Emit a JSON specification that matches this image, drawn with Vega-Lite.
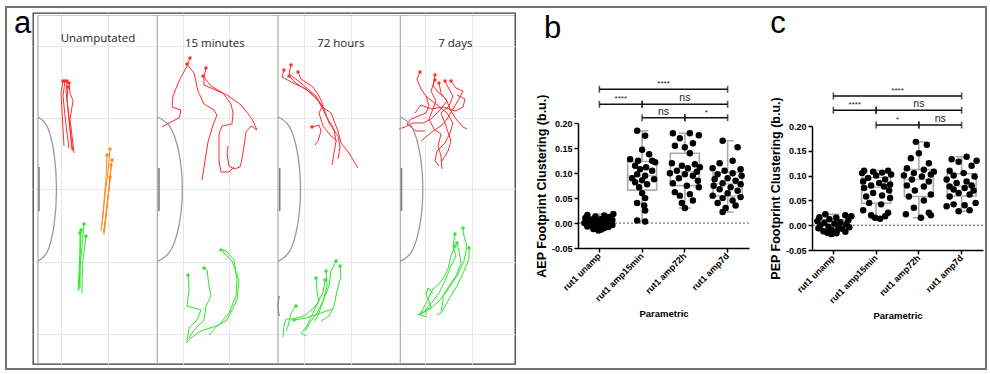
{
"$schema": "https://vega.github.io/schema/vega-lite/v6.json",
"background": "white",
"padding": {"left": 4, "top": 5, "right": 0, "bottom": 0},
"bounds": "flush",
"spacing": 63,
"config": {"font": "Liberation Sans", "view": {"stroke": null}, "axis": {"labelFont": "Liberation Sans", "titleFont": "Liberation Sans"}},
"datasets": {
"dividers": [{"x":37},{"x":156.3},{"x":277},{"x":399.3}],
"arcs": [
{"id":"a1","o":0,"x":37,"y":116},{"id":"a1","o":1,"x":46.3,"y":125.7},{"id":"a1","o":2,"x":53,"y":152.1},{"id":"a1","o":3,"x":55.5,"y":188.2},{"id":"a1","o":4,"x":53,"y":224.3},{"id":"a1","o":5,"x":46.3,"y":250.7},{"id":"a1","o":6,"x":37,"y":260.4},
{"id":"a2","o":0,"x":156.3,"y":116},{"id":"a2","o":1,"x":168.8,"y":125.7},{"id":"a2","o":2,"x":178,"y":152.1},{"id":"a2","o":3,"x":181.3,"y":188.2},{"id":"a2","o":4,"x":178,"y":224.3},{"id":"a2","o":5,"x":168.8,"y":250.7},{"id":"a2","o":6,"x":156.3,"y":260.4},
{"id":"a3","o":0,"x":277,"y":116},{"id":"a3","o":1,"x":288.3,"y":125.7},{"id":"a3","o":2,"x":296.5,"y":152.1},{"id":"a3","o":3,"x":299.5,"y":188.2},{"id":"a3","o":4,"x":296.5,"y":224.3},{"id":"a3","o":5,"x":288.3,"y":250.7},{"id":"a3","o":6,"x":277,"y":260.4},
{"id":"a4","o":0,"x":399.3,"y":116},{"id":"a4","o":1,"x":410.6,"y":125.7},{"id":"a4","o":2,"x":418.8,"y":152.1},{"id":"a4","o":3,"x":421.8,"y":188.2},{"id":"a4","o":4,"x":418.8,"y":224.3},{"id":"a4","o":5,"x":410.6,"y":250.7},{"id":"a4","o":6,"x":399.3,"y":260.4}
],
"stubs": [
{"id":"s1","o":0,"x":38,"y":166},{"id":"s1","o":1,"x":38,"y":210},
{"id":"s2","o":0,"x":158,"y":167},{"id":"s2","o":1,"x":158,"y":210},
{"id":"s3","o":0,"x":278.7,"y":167},{"id":"s3","o":1,"x":278.7,"y":210},
{"id":"s4","o":0,"x":400.5,"y":167},{"id":"s4","o":1,"x":400.5,"y":210}
],
"subtitles": [
{"x":97,"y":38,"t":"Unamputated"},{"x":213.8,"y":43,"t":"15 minutes"},{"x":339.8,"y":43,"t":"72 hours"},{"x":454.3,"y":43,"t":"7 days"}
],
"tracks": [
{"id":"u_r1","c":"red","o":0,"x":62,"y":80},{"id":"u_r1","c":"red","o":1,"x":60,"y":92},{"id":"u_r1","c":"red","o":2,"x":61,"y":110},{"id":"u_r1","c":"red","o":3,"x":62,"y":128},{"id":"u_r1","c":"red","o":4,"x":63,"y":145},
{"id":"u_r2","c":"red","o":0,"x":64,"y":80},{"id":"u_r2","c":"red","o":1,"x":62,"y":95},{"id":"u_r2","c":"red","o":2,"x":64,"y":115},{"id":"u_r2","c":"red","o":3,"x":66,"y":132},{"id":"u_r2","c":"red","o":4,"x":68,"y":147},
{"id":"u_r3","c":"red","o":0,"x":66,"y":80},{"id":"u_r3","c":"red","o":1,"x":65,"y":90},{"id":"u_r3","c":"red","o":2,"x":67,"y":108},{"id":"u_r3","c":"red","o":3,"x":69,"y":128},{"id":"u_r3","c":"red","o":4,"x":71,"y":149},
{"id":"u_r4","c":"red","o":0,"x":68,"y":82},{"id":"u_r4","c":"red","o":1,"x":69,"y":92},{"id":"u_r4","c":"red","o":2,"x":72,"y":100},{"id":"u_r4","c":"red","o":3,"x":69,"y":118},{"id":"u_r4","c":"red","o":4,"x":71,"y":135},{"id":"u_r4","c":"red","o":5,"x":73,"y":152},
{"id":"u_r5","c":"red","o":0,"x":67,"y":86},{"id":"u_r5","c":"red","o":1,"x":66,"y":98},{"id":"u_r5","c":"red","o":2,"x":68,"y":118},{"id":"u_r5","c":"red","o":3,"x":70,"y":138},{"id":"u_r5","c":"red","o":4,"x":72,"y":150},
{"id":"u_o1","c":"orange","o":0,"x":109,"y":148},{"id":"u_o1","c":"orange","o":1,"x":107,"y":170},{"id":"u_o1","c":"orange","o":2,"x":104,"y":195},{"id":"u_o1","c":"orange","o":3,"x":102,"y":215},{"id":"u_o1","c":"orange","o":4,"x":101,"y":224},
{"id":"u_o2","c":"orange","o":0,"x":106,"y":154},{"id":"u_o2","c":"orange","o":1,"x":105,"y":178},{"id":"u_o2","c":"orange","o":2,"x":103,"y":200},{"id":"u_o2","c":"orange","o":3,"x":101,"y":222},{"id":"u_o2","c":"orange","o":4,"x":100,"y":230},
{"id":"u_o3","c":"orange","o":0,"x":111,"y":159},{"id":"u_o3","c":"orange","o":1,"x":109,"y":180},{"id":"u_o3","c":"orange","o":2,"x":106,"y":205},{"id":"u_o3","c":"orange","o":3,"x":104,"y":225},{"id":"u_o3","c":"orange","o":4,"x":103,"y":234},
{"id":"u_o4","c":"orange","o":0,"x":110,"y":164},{"id":"u_o4","c":"orange","o":1,"x":108,"y":188},{"id":"u_o4","c":"orange","o":2,"x":105,"y":212},{"id":"u_o4","c":"orange","o":3,"x":103,"y":228},{"id":"u_o4","c":"orange","o":4,"x":102,"y":232},
{"id":"u_o5","c":"orange","o":0,"x":109,"y":176},{"id":"u_o5","c":"orange","o":1,"x":107,"y":195},{"id":"u_o5","c":"orange","o":2,"x":105,"y":215},{"id":"u_o5","c":"orange","o":3,"x":103,"y":230},
{"id":"u_g1","c":"green","o":0,"x":83,"y":223},{"id":"u_g1","c":"green","o":1,"x":81,"y":245},{"id":"u_g1","c":"green","o":2,"x":79,"y":268},{"id":"u_g1","c":"green","o":3,"x":78,"y":289},
{"id":"u_g2","c":"green","o":0,"x":80,"y":229},{"id":"u_g2","c":"green","o":1,"x":79,"y":252},{"id":"u_g2","c":"green","o":2,"x":78,"y":272},{"id":"u_g2","c":"green","o":3,"x":77,"y":290},
{"id":"u_g3","c":"green","o":0,"x":85,"y":235},{"id":"u_g3","c":"green","o":1,"x":82,"y":258},{"id":"u_g3","c":"green","o":2,"x":81,"y":278},{"id":"u_g3","c":"green","o":3,"x":81,"y":292},
{"id":"u_g4","c":"green","o":0,"x":79,"y":232},{"id":"u_g4","c":"green","o":1,"x":79,"y":255},{"id":"u_g4","c":"green","o":2,"x":79,"y":275},{"id":"u_g4","c":"green","o":3,"x":79,"y":287},
{"id":"m_r1","c":"red","o":0,"x":189,"y":57},{"id":"m_r1","c":"red","o":1,"x":186,"y":65},{"id":"m_r1","c":"red","o":2,"x":178,"y":80},{"id":"m_r1","c":"red","o":3,"x":172,"y":95},{"id":"m_r1","c":"red","o":4,"x":171,"y":106},{"id":"m_r1","c":"red","o":5,"x":180,"y":109},{"id":"m_r1","c":"red","o":6,"x":178,"y":117},{"id":"m_r1","c":"red","o":7,"x":168,"y":122},{"id":"m_r1","c":"red","o":8,"x":161,"y":126},
{"id":"m_r2","c":"red","o":0,"x":186,"y":63},{"id":"m_r2","c":"red","o":1,"x":193,"y":72},{"id":"m_r2","c":"red","o":2,"x":197,"y":90},{"id":"m_r2","c":"red","o":3,"x":203,"y":103},{"id":"m_r2","c":"red","o":4,"x":213,"y":109},{"id":"m_r2","c":"red","o":5,"x":216,"y":114},{"id":"m_r2","c":"red","o":6,"x":212,"y":124},{"id":"m_r2","c":"red","o":7,"x":207,"y":141},{"id":"m_r2","c":"red","o":8,"x":204,"y":160},{"id":"m_r2","c":"red","o":9,"x":201,"y":179},
{"id":"m_r3","c":"red","o":0,"x":205,"y":67},{"id":"m_r3","c":"red","o":1,"x":203,"y":76},{"id":"m_r3","c":"red","o":2,"x":203,"y":84},{"id":"m_r3","c":"red","o":3,"x":212,"y":88},{"id":"m_r3","c":"red","o":4,"x":226,"y":94},{"id":"m_r3","c":"red","o":5,"x":240,"y":104},{"id":"m_r3","c":"red","o":6,"x":251,"y":118},{"id":"m_r3","c":"red","o":7,"x":256,"y":129},{"id":"m_r3","c":"red","o":8,"x":250,"y":125},{"id":"m_r3","c":"red","o":9,"x":245,"y":131},{"id":"m_r3","c":"red","o":10,"x":243,"y":145},{"id":"m_r3","c":"red","o":11,"x":241,"y":158},{"id":"m_r3","c":"red","o":12,"x":239,"y":166},{"id":"m_r3","c":"red","o":13,"x":233,"y":168},{"id":"m_r3","c":"red","o":14,"x":228,"y":165},{"id":"m_r3","c":"red","o":15,"x":226,"y":153},{"id":"m_r3","c":"red","o":16,"x":227,"y":145},
{"id":"m_r4","c":"red","o":0,"x":202,"y":75},{"id":"m_r4","c":"red","o":1,"x":210,"y":85},{"id":"m_r4","c":"red","o":2,"x":222,"y":92},{"id":"m_r4","c":"red","o":3,"x":230,"y":103},{"id":"m_r4","c":"red","o":4,"x":232,"y":112},{"id":"m_r4","c":"red","o":5,"x":231,"y":123},{"id":"m_r4","c":"red","o":6,"x":221,"y":125},{"id":"m_r4","c":"red","o":7,"x":218,"y":133},{"id":"m_r4","c":"red","o":8,"x":218,"y":160},{"id":"m_r4","c":"red","o":9,"x":220,"y":171},{"id":"m_r4","c":"red","o":10,"x":228,"y":171},{"id":"m_r4","c":"red","o":11,"x":233,"y":166},
{"id":"m_g1","c":"green","o":0,"x":220,"y":249},{"id":"m_g1","c":"green","o":1,"x":225,"y":250},{"id":"m_g1","c":"green","o":2,"x":233,"y":259},{"id":"m_g1","c":"green","o":3,"x":236,"y":279},{"id":"m_g1","c":"green","o":4,"x":235,"y":295},{"id":"m_g1","c":"green","o":5,"x":228,"y":312},{"id":"m_g1","c":"green","o":6,"x":218,"y":324},{"id":"m_g1","c":"green","o":7,"x":200,"y":330},{"id":"m_g1","c":"green","o":8,"x":190,"y":337},{"id":"m_g1","c":"green","o":9,"x":185,"y":342},
{"id":"m_g2","c":"green","o":1,"x":222,"y":251},{"id":"m_g2","c":"green","o":2,"x":231,"y":260},{"id":"m_g2","c":"green","o":3,"x":238,"y":279},{"id":"m_g2","c":"green","o":4,"x":236,"y":299},{"id":"m_g2","c":"green","o":5,"x":226,"y":319},{"id":"m_g2","c":"green","o":6,"x":216,"y":325},{"id":"m_g2","c":"green","o":7,"x":208,"y":334},
{"id":"m_g3","c":"green","o":0,"x":203,"y":267},{"id":"m_g3","c":"green","o":1,"x":206,"y":269},{"id":"m_g3","c":"green","o":2,"x":208,"y":285},{"id":"m_g3","c":"green","o":3,"x":210,"y":295},{"id":"m_g3","c":"green","o":4,"x":205,"y":305},{"id":"m_g3","c":"green","o":5,"x":203,"y":319},{"id":"m_g3","c":"green","o":6,"x":193,"y":329},{"id":"m_g3","c":"green","o":7,"x":188,"y":337},
{"id":"m_g4","c":"green","o":0,"x":187,"y":274},{"id":"m_g4","c":"green","o":1,"x":188,"y":289},{"id":"m_g4","c":"green","o":2,"x":186,"y":305},{"id":"m_g4","c":"green","o":3,"x":200,"y":309},{"id":"m_g4","c":"green","o":4,"x":196,"y":319},{"id":"m_g4","c":"green","o":5,"x":188,"y":327},{"id":"m_g4","c":"green","o":6,"x":186,"y":340},
{"id":"h_r1","c":"red","o":0,"x":290,"y":64},{"id":"h_r1","c":"red","o":1,"x":288,"y":73},{"id":"h_r1","c":"red","o":2,"x":300,"y":82},{"id":"h_r1","c":"red","o":3,"x":315,"y":95},{"id":"h_r1","c":"red","o":4,"x":320,"y":105},{"id":"h_r1","c":"red","o":5,"x":330,"y":112},{"id":"h_r1","c":"red","o":6,"x":337,"y":130},{"id":"h_r1","c":"red","o":7,"x":340,"y":142},{"id":"h_r1","c":"red","o":8,"x":348,"y":152},{"id":"h_r1","c":"red","o":9,"x":357,"y":167},
{"id":"h_r2","c":"red","o":0,"x":283,"y":69},{"id":"h_r2","c":"red","o":1,"x":281,"y":76},{"id":"h_r2","c":"red","o":2,"x":292,"y":82},{"id":"h_r2","c":"red","o":3,"x":305,"y":88},{"id":"h_r2","c":"red","o":4,"x":318,"y":100},{"id":"h_r2","c":"red","o":5,"x":325,"y":115},{"id":"h_r2","c":"red","o":6,"x":333,"y":128},{"id":"h_r2","c":"red","o":7,"x":335,"y":140},{"id":"h_r2","c":"red","o":8,"x":333,"y":152},{"id":"h_r2","c":"red","o":9,"x":331,"y":164},
{"id":"h_r3","c":"red","o":0,"x":288,"y":75},{"id":"h_r3","c":"red","o":1,"x":295,"y":82},{"id":"h_r3","c":"red","o":2,"x":310,"y":92},{"id":"h_r3","c":"red","o":3,"x":322,"y":105},{"id":"h_r3","c":"red","o":4,"x":328,"y":122},{"id":"h_r3","c":"red","o":5,"x":337,"y":135},{"id":"h_r3","c":"red","o":6,"x":339,"y":146},{"id":"h_r3","c":"red","o":7,"x":337,"y":158},
{"id":"h_r4","c":"red","o":0,"x":297,"y":71},{"id":"h_r4","c":"red","o":1,"x":300,"y":78},{"id":"h_r4","c":"red","o":2,"x":312,"y":86},{"id":"h_r4","c":"red","o":3,"x":318,"y":95},{"id":"h_r4","c":"red","o":4,"x":322,"y":104},{"id":"h_r4","c":"red","o":5,"x":318,"y":112},{"id":"h_r4","c":"red","o":6,"x":322,"y":125},{"id":"h_r4","c":"red","o":7,"x":330,"y":135},{"id":"h_r4","c":"red","o":8,"x":336,"y":140},
{"id":"h_r5","c":"red","o":0,"x":311,"y":126},{"id":"h_r5","c":"red","o":1,"x":318,"y":124},{"id":"h_r5","c":"red","o":2,"x":320,"y":130},{"id":"h_r5","c":"red","o":3,"x":317,"y":140},{"id":"h_r5","c":"red","o":4,"x":314,"y":144},
{"id":"h_g1","c":"green","o":0,"x":335,"y":260},{"id":"h_g1","c":"green","o":1,"x":330,"y":270},{"id":"h_g1","c":"green","o":2,"x":328,"y":285},{"id":"h_g1","c":"green","o":3,"x":322,"y":300},{"id":"h_g1","c":"green","o":4,"x":316,"y":312},{"id":"h_g1","c":"green","o":5,"x":310,"y":320},{"id":"h_g1","c":"green","o":6,"x":304,"y":330},
{"id":"h_g2","c":"green","o":0,"x":339,"y":265},{"id":"h_g2","c":"green","o":1,"x":340,"y":275},{"id":"h_g2","c":"green","o":2,"x":336,"y":290},{"id":"h_g2","c":"green","o":3,"x":333,"y":305},{"id":"h_g2","c":"green","o":4,"x":328,"y":315},{"id":"h_g2","c":"green","o":5,"x":320,"y":320},
{"id":"h_g3","c":"green","o":0,"x":325,"y":270},{"id":"h_g3","c":"green","o":1,"x":326,"y":285},{"id":"h_g3","c":"green","o":2,"x":322,"y":300},{"id":"h_g3","c":"green","o":3,"x":318,"y":312},{"id":"h_g3","c":"green","o":4,"x":314,"y":320},
{"id":"h_g4","c":"green","o":0,"x":315,"y":277},{"id":"h_g4","c":"green","o":1,"x":316,"y":290},{"id":"h_g4","c":"green","o":2,"x":318,"y":300},{"id":"h_g4","c":"green","o":3,"x":312,"y":312},{"id":"h_g4","c":"green","o":4,"x":306,"y":325},{"id":"h_g4","c":"green","o":5,"x":300,"y":332},{"id":"h_g4","c":"green","o":6,"x":305,"y":335},
{"id":"h_g5","c":"green","o":0,"x":324,"y":279},{"id":"h_g5","c":"green","o":1,"x":322,"y":292},{"id":"h_g5","c":"green","o":2,"x":314,"y":306},{"id":"h_g5","c":"green","o":3,"x":303,"y":315},{"id":"h_g5","c":"green","o":4,"x":292,"y":318},{"id":"h_g5","c":"green","o":5,"x":285,"y":318},{"id":"h_g5","c":"green","o":6,"x":283,"y":325},{"id":"h_g5","c":"green","o":7,"x":282,"y":336},
{"id":"h_g6","c":"green","o":0,"x":295,"y":305},{"id":"h_g6","c":"green","o":1,"x":290,"y":312},{"id":"h_g6","c":"green","o":2,"x":287,"y":325},{"id":"h_g6","c":"green","o":3,"x":285,"y":330},
{"id":"h_g7","c":"green","o":0,"x":293,"y":319},{"id":"h_g7","c":"green","o":1,"x":305,"y":317},{"id":"h_g7","c":"green","o":2,"x":320,"y":312},{"id":"h_g7","c":"green","o":3,"x":331,"y":308},
{"id":"h_k","c":"dark","o":1,"x":278,"y":295},{"id":"h_k","c":"dark","o":2,"x":277,"y":305},{"id":"h_k","c":"dark","o":3,"x":278,"y":315},
{"id":"d_r1","c":"red","o":0,"x":419,"y":71},{"id":"d_r1","c":"red","o":1,"x":416,"y":78},{"id":"d_r1","c":"red","o":2,"x":420,"y":88},{"id":"d_r1","c":"red","o":3,"x":425,"y":95},{"id":"d_r1","c":"red","o":4,"x":428,"y":105},{"id":"d_r1","c":"red","o":5,"x":425,"y":112},{"id":"d_r1","c":"red","o":6,"x":410,"y":118},{"id":"d_r1","c":"red","o":7,"x":406,"y":123},{"id":"d_r1","c":"red","o":8,"x":415,"y":130},{"id":"d_r1","c":"red","o":9,"x":424,"y":130},
{"id":"d_r2","c":"red","o":0,"x":434,"y":74},{"id":"d_r2","c":"red","o":1,"x":432,"y":85},{"id":"d_r2","c":"red","o":2,"x":438,"y":92},{"id":"d_r2","c":"red","o":3,"x":445,"y":98},{"id":"d_r2","c":"red","o":4,"x":450,"y":110},{"id":"d_r2","c":"red","o":5,"x":455,"y":118},{"id":"d_r2","c":"red","o":6,"x":462,"y":126},{"id":"d_r2","c":"red","o":7,"x":466,"y":128},
{"id":"d_r3","c":"red","o":0,"x":434,"y":79},{"id":"d_r3","c":"red","o":1,"x":430,"y":90},{"id":"d_r3","c":"red","o":2,"x":435,"y":100},{"id":"d_r3","c":"red","o":3,"x":432,"y":108},{"id":"d_r3","c":"red","o":4,"x":428,"y":118},{"id":"d_r3","c":"red","o":5,"x":433,"y":128},{"id":"d_r3","c":"red","o":6,"x":440,"y":133},{"id":"d_r3","c":"red","o":7,"x":437,"y":145},{"id":"d_r3","c":"red","o":8,"x":440,"y":155},{"id":"d_r3","c":"red","o":9,"x":441,"y":168},
{"id":"d_r4","c":"red","o":0,"x":444,"y":80},{"id":"d_r4","c":"red","o":1,"x":448,"y":88},{"id":"d_r4","c":"red","o":2,"x":452,"y":95},{"id":"d_r4","c":"red","o":3,"x":448,"y":105},{"id":"d_r4","c":"red","o":4,"x":440,"y":112},{"id":"d_r4","c":"red","o":5,"x":445,"y":125},{"id":"d_r4","c":"red","o":6,"x":450,"y":140},{"id":"d_r4","c":"red","o":7,"x":447,"y":150},{"id":"d_r4","c":"red","o":8,"x":441,"y":160},
{"id":"d_r5","c":"red","o":0,"x":450,"y":80},{"id":"d_r5","c":"red","o":1,"x":455,"y":87},{"id":"d_r5","c":"red","o":2,"x":462,"y":90},{"id":"d_r5","c":"red","o":3,"x":458,"y":98},{"id":"d_r5","c":"red","o":4,"x":452,"y":108},{"id":"d_r5","c":"red","o":5,"x":446,"y":118},{"id":"d_r5","c":"red","o":6,"x":440,"y":125},{"id":"d_r5","c":"red","o":7,"x":432,"y":130},{"id":"d_r5","c":"red","o":8,"x":420,"y":140},
{"id":"d_r6","c":"red","o":0,"x":438,"y":82},{"id":"d_r6","c":"red","o":1,"x":440,"y":92},{"id":"d_r6","c":"red","o":2,"x":446,"y":100},{"id":"d_r6","c":"red","o":3,"x":438,"y":110},{"id":"d_r6","c":"red","o":4,"x":430,"y":118},{"id":"d_r6","c":"red","o":5,"x":422,"y":122},{"id":"d_r6","c":"red","o":6,"x":412,"y":122},{"id":"d_r6","c":"red","o":7,"x":404,"y":126},{"id":"d_r6","c":"red","o":8,"x":398,"y":128},
{"id":"d_r7","c":"red","o":1,"x":425,"y":95},{"id":"d_r7","c":"red","o":2,"x":436,"y":104},{"id":"d_r7","c":"red","o":3,"x":446,"y":112},{"id":"d_r7","c":"red","o":4,"x":452,"y":122},{"id":"d_r7","c":"red","o":5,"x":449,"y":132},{"id":"d_r7","c":"red","o":6,"x":444,"y":142},{"id":"d_r7","c":"red","o":7,"x":436,"y":150},{"id":"d_r7","c":"red","o":8,"x":434,"y":160},{"id":"d_r7","c":"red","o":9,"x":438,"y":165},
{"id":"d_r8","c":"red","o":1,"x":456,"y":94},{"id":"d_r8","c":"red","o":2,"x":464,"y":98},{"id":"d_r8","c":"red","o":3,"x":462,"y":106},{"id":"d_r8","c":"red","o":4,"x":454,"y":110},{"id":"d_r8","c":"red","o":5,"x":442,"y":106},{"id":"d_r8","c":"red","o":6,"x":430,"y":108},{"id":"d_r8","c":"red","o":7,"x":420,"y":104},{"id":"d_r8","c":"red","o":8,"x":414,"y":112},
{"id":"d_g1","c":"green","o":0,"x":462,"y":227},{"id":"d_g1","c":"green","o":1,"x":463,"y":235},{"id":"d_g1","c":"green","o":2,"x":466,"y":245},{"id":"d_g1","c":"green","o":3,"x":463,"y":260},{"id":"d_g1","c":"green","o":4,"x":456,"y":275},{"id":"d_g1","c":"green","o":5,"x":446,"y":290},{"id":"d_g1","c":"green","o":6,"x":438,"y":300},{"id":"d_g1","c":"green","o":7,"x":430,"y":307},{"id":"d_g1","c":"green","o":8,"x":418,"y":314},
{"id":"d_g2","c":"green","o":0,"x":454,"y":233},{"id":"d_g2","c":"green","o":1,"x":452,"y":245},{"id":"d_g2","c":"green","o":2,"x":455,"y":255},{"id":"d_g2","c":"green","o":3,"x":450,"y":265},{"id":"d_g2","c":"green","o":4,"x":444,"y":280},{"id":"d_g2","c":"green","o":5,"x":438,"y":292},{"id":"d_g2","c":"green","o":6,"x":432,"y":300},{"id":"d_g2","c":"green","o":7,"x":425,"y":308},{"id":"d_g2","c":"green","o":8,"x":425,"y":314},
{"id":"d_g3","c":"green","o":0,"x":456,"y":242},{"id":"d_g3","c":"green","o":1,"x":458,"y":250},{"id":"d_g3","c":"green","o":2,"x":460,"y":262},{"id":"d_g3","c":"green","o":3,"x":455,"y":275},{"id":"d_g3","c":"green","o":4,"x":448,"y":285},{"id":"d_g3","c":"green","o":5,"x":442,"y":295},{"id":"d_g3","c":"green","o":6,"x":442,"y":300},{"id":"d_g3","c":"green","o":7,"x":440,"y":310},
{"id":"d_g4","c":"green","o":0,"x":454,"y":245},{"id":"d_g4","c":"green","o":1,"x":450,"y":255},{"id":"d_g4","c":"green","o":2,"x":447,"y":268},{"id":"d_g4","c":"green","o":3,"x":443,"y":276},{"id":"d_g4","c":"green","o":4,"x":438,"y":283},{"id":"d_g4","c":"green","o":5,"x":432,"y":288},{"id":"d_g4","c":"green","o":6,"x":428,"y":296},{"id":"d_g4","c":"green","o":7,"x":423,"y":306},{"id":"d_g4","c":"green","o":8,"x":419,"y":314},{"id":"d_g4","c":"green","o":9,"x":426,"y":316},
{"id":"d_g5","c":"green","o":0,"x":468,"y":247},{"id":"d_g5","c":"green","o":1,"x":468,"y":258},{"id":"d_g5","c":"green","o":2,"x":463,"y":270},{"id":"d_g5","c":"green","o":3,"x":456,"y":285},{"id":"d_g5","c":"green","o":4,"x":448,"y":298},{"id":"d_g5","c":"green","o":5,"x":444,"y":305},{"id":"d_g5","c":"green","o":6,"x":440,"y":312},{"id":"d_g5","c":"green","o":7,"x":436,"y":314},
{"id":"d_g6","c":"green","o":1,"x":432,"y":292},{"id":"d_g6","c":"green","o":2,"x":427,"y":287},{"id":"d_g6","c":"green","o":3,"x":425,"y":293},{"id":"d_g6","c":"green","o":4,"x":428,"y":300},{"id":"d_g6","c":"green","o":5,"x":430,"y":306},{"id":"d_g6","c":"green","o":6,"x":424,"y":310},{"id":"d_g6","c":"green","o":7,"x":416,"y":314}
],
"bpts": [
{"g":"rut1 unamp","v":0.018,"j":14},{"g":"rut1 unamp","v":0.016,"j":-12},{"g":"rut1 unamp","v":0.015,"j":5},{"g":"rut1 unamp","v":0.013,"j":-4},{"g":"rut1 unamp","v":0.012,"j":10},{"g":"rut1 unamp","v":0.010,"j":-14},{"g":"rut1 unamp","v":0.008,"j":2},{"g":"rut1 unamp","v":0.007,"j":-8},{"g":"rut1 unamp","v":0.006,"j":13},{"g":"rut1 unamp","v":0.005,"j":-2},{"g":"rut1 unamp","v":0.004,"j":7},{"g":"rut1 unamp","v":0.003,"j":-12},{"g":"rut1 unamp","v":0.002,"j":3},{"g":"rut1 unamp","v":0.001,"j":-6},{"g":"rut1 unamp","v":0.000,"j":11},{"g":"rut1 unamp","v":0.000,"j":-15},{"g":"rut1 unamp","v":-0.001,"j":0},{"g":"rut1 unamp","v":-0.002,"j":6},{"g":"rut1 unamp","v":-0.003,"j":-9},{"g":"rut1 unamp","v":-0.004,"j":13},{"g":"rut1 unamp","v":-0.005,"j":-4},{"g":"rut1 unamp","v":-0.006,"j":3},{"g":"rut1 unamp","v":-0.007,"j":-12},{"g":"rut1 unamp","v":-0.008,"j":9},{"g":"rut1 unamp","v":-0.009,"j":-2},{"g":"rut1 unamp","v":-0.010,"j":5},{"g":"rut1 unamp","v":-0.012,"j":-6},{"g":"rut1 unamp","v":-0.013,"j":2},{"g":"rut1 unamp","v":-0.015,"j":-1},
{"g":"rut1 amp15min","v":0.185,"j":-5},{"g":"rut1 amp15min","v":0.175,"j":3},{"g":"rut1 amp15min","v":0.147,"j":0},{"g":"rut1 amp15min","v":0.138,"j":7},{"g":"rut1 amp15min","v":0.128,"j":-12},{"g":"rut1 amp15min","v":0.125,"j":10},{"g":"rut1 amp15min","v":0.125,"j":-4},{"g":"rut1 amp15min","v":0.122,"j":13},{"g":"rut1 amp15min","v":0.115,"j":-7},{"g":"rut1 amp15min","v":0.112,"j":4},{"g":"rut1 amp15min","v":0.108,"j":-2},{"g":"rut1 amp15min","v":0.105,"j":10},{"g":"rut1 amp15min","v":0.098,"j":-5},{"g":"rut1 amp15min","v":0.095,"j":3},{"g":"rut1 amp15min","v":0.090,"j":-10},{"g":"rut1 amp15min","v":0.088,"j":12},{"g":"rut1 amp15min","v":0.086,"j":0},{"g":"rut1 amp15min","v":0.082,"j":-7},{"g":"rut1 amp15min","v":0.078,"j":5},{"g":"rut1 amp15min","v":0.072,"j":-3},{"g":"rut1 amp15min","v":0.060,"j":0},{"g":"rut1 amp15min","v":0.050,"j":3},{"g":"rut1 amp15min","v":0.040,"j":-5},{"g":"rut1 amp15min","v":0.035,"j":2},{"g":"rut1 amp15min","v":0.025,"j":3},{"g":"rut1 amp15min","v":0.005,"j":-5},{"g":"rut1 amp15min","v":0.003,"j":3},
{"g":"rut1 amp72h","v":0.180,"j":-12},{"g":"rut1 amp72h","v":0.180,"j":5},{"g":"rut1 amp72h","v":0.176,"j":14},{"g":"rut1 amp72h","v":0.170,"j":-5},{"g":"rut1 amp72h","v":0.160,"j":8},{"g":"rut1 amp72h","v":0.155,"j":-10},{"g":"rut1 amp72h","v":0.152,"j":0},{"g":"rut1 amp72h","v":0.140,"j":5},{"g":"rut1 amp72h","v":0.120,"j":-13},{"g":"rut1 amp72h","v":0.118,"j":10},{"g":"rut1 amp72h","v":0.115,"j":-3},{"g":"rut1 amp72h","v":0.112,"j":15},{"g":"rut1 amp72h","v":0.110,"j":3},{"g":"rut1 amp72h","v":0.105,"j":-8},{"g":"rut1 amp72h","v":0.103,"j":12},{"g":"rut1 amp72h","v":0.100,"j":-15},{"g":"rut1 amp72h","v":0.098,"j":0},{"g":"rut1 amp72h","v":0.095,"j":8},{"g":"rut1 amp72h","v":0.090,"j":-6},{"g":"rut1 amp72h","v":0.085,"j":13},{"g":"rut1 amp72h","v":0.080,"j":-12},{"g":"rut1 amp72h","v":0.075,"j":2},{"g":"rut1 amp72h","v":0.072,"j":14},{"g":"rut1 amp72h","v":0.062,"j":-10},{"g":"rut1 amp72h","v":0.058,"j":5},{"g":"rut1 amp72h","v":0.055,"j":-5},{"g":"rut1 amp72h","v":0.045,"j":8},{"g":"rut1 amp72h","v":0.040,"j":-3},{"g":"rut1 amp72h","v":0.030,"j":0},
{"g":"rut1 amp7d","v":0.165,"j":-5},{"g":"rut1 amp7d","v":0.152,"j":10},{"g":"rut1 amp7d","v":0.125,"j":5},{"g":"rut1 amp7d","v":0.120,"j":-8},{"g":"rut1 amp7d","v":0.110,"j":-15},{"g":"rut1 amp7d","v":0.108,"j":13},{"g":"rut1 amp7d","v":0.105,"j":-3},{"g":"rut1 amp7d","v":0.100,"j":5},{"g":"rut1 amp7d","v":0.098,"j":-10},{"g":"rut1 amp7d","v":0.095,"j":14},{"g":"rut1 amp7d","v":0.090,"j":0},{"g":"rut1 amp7d","v":0.088,"j":-13},{"g":"rut1 amp7d","v":0.085,"j":8},{"g":"rut1 amp7d","v":0.080,"j":-5},{"g":"rut1 amp7d","v":0.078,"j":13},{"g":"rut1 amp7d","v":0.075,"j":-14},{"g":"rut1 amp7d","v":0.072,"j":3},{"g":"rut1 amp7d","v":0.068,"j":-8},{"g":"rut1 amp7d","v":0.065,"j":10},{"g":"rut1 amp7d","v":0.060,"j":0},{"g":"rut1 amp7d","v":0.055,"j":-15},{"g":"rut1 amp7d","v":0.052,"j":13},{"g":"rut1 amp7d","v":0.050,"j":-5},{"g":"rut1 amp7d","v":0.045,"j":5},{"g":"rut1 amp7d","v":0.040,"j":-10},{"g":"rut1 amp7d","v":0.035,"j":8},{"g":"rut1 amp7d","v":0.030,"j":-2},{"g":"rut1 amp7d","v":0.022,"j":-5}
],
"cpts": [
{"g":"rut1 unamp","v":0.022,"j":-8},{"g":"rut1 unamp","v":0.020,"j":12},{"g":"rut1 unamp","v":0.018,"j":18},{"g":"rut1 unamp","v":0.016,"j":-14},{"g":"rut1 unamp","v":0.015,"j":3},{"g":"rut1 unamp","v":0.012,"j":-4},{"g":"rut1 unamp","v":0.010,"j":15},{"g":"rut1 unamp","v":0.008,"j":-16},{"g":"rut1 unamp","v":0.006,"j":7},{"g":"rut1 unamp","v":0.005,"j":-9},{"g":"rut1 unamp","v":0.003,"j":1},{"g":"rut1 unamp","v":0.002,"j":13},{"g":"rut1 unamp","v":0.000,"j":-13},{"g":"rut1 unamp","v":-0.001,"j":5},{"g":"rut1 unamp","v":-0.003,"j":-5},{"g":"rut1 unamp","v":-0.004,"j":16},{"g":"rut1 unamp","v":-0.006,"j":-15},{"g":"rut1 unamp","v":-0.007,"j":9},{"g":"rut1 unamp","v":-0.009,"j":-2},{"g":"rut1 unamp","v":-0.010,"j":4},{"g":"rut1 unamp","v":-0.012,"j":-10},{"g":"rut1 unamp","v":-0.013,"j":12},{"g":"rut1 unamp","v":-0.015,"j":-6},{"g":"rut1 unamp","v":-0.016,"j":3},{"g":"rut1 unamp","v":-0.018,"j":-2},
{"g":"rut1 amp15min","v":0.110,"j":-12},{"g":"rut1 amp15min","v":0.110,"j":12},{"g":"rut1 amp15min","v":0.108,"j":-3},{"g":"rut1 amp15min","v":0.106,"j":6},{"g":"rut1 amp15min","v":0.105,"j":-14},{"g":"rut1 amp15min","v":0.102,"j":15},{"g":"rut1 amp15min","v":0.100,"j":0},{"g":"rut1 amp15min","v":0.095,"j":-8},{"g":"rut1 amp15min","v":0.092,"j":9},{"g":"rut1 amp15min","v":0.088,"j":-13},{"g":"rut1 amp15min","v":0.085,"j":3},{"g":"rut1 amp15min","v":0.082,"j":14},{"g":"rut1 amp15min","v":0.080,"j":-5},{"g":"rut1 amp15min","v":0.078,"j":8},{"g":"rut1 amp15min","v":0.075,"j":-12},{"g":"rut1 amp15min","v":0.070,"j":13},{"g":"rut1 amp15min","v":0.065,"j":-3},{"g":"rut1 amp15min","v":0.060,"j":6},{"g":"rut1 amp15min","v":0.058,"j":-10},{"g":"rut1 amp15min","v":0.055,"j":14},{"g":"rut1 amp15min","v":0.045,"j":-7},{"g":"rut1 amp15min","v":0.042,"j":5},{"g":"rut1 amp15min","v":0.030,"j":-13},{"g":"rut1 amp15min","v":0.025,"j":12},{"g":"rut1 amp15min","v":0.020,"j":-5},{"g":"rut1 amp15min","v":0.018,"j":9},{"g":"rut1 amp15min","v":0.015,"j":-1},{"g":"rut1 amp15min","v":0.013,"j":4},
{"g":"rut1 amp72h","v":0.168,"j":-3},{"g":"rut1 amp72h","v":0.162,"j":8},{"g":"rut1 amp72h","v":0.145,"j":0},{"g":"rut1 amp72h","v":0.135,"j":-8},{"g":"rut1 amp72h","v":0.125,"j":10},{"g":"rut1 amp72h","v":0.115,"j":-12},{"g":"rut1 amp72h","v":0.112,"j":5},{"g":"rut1 amp72h","v":0.108,"j":15},{"g":"rut1 amp72h","v":0.105,"j":-5},{"g":"rut1 amp72h","v":0.102,"j":12},{"g":"rut1 amp72h","v":0.100,"j":-15},{"g":"rut1 amp72h","v":0.098,"j":3},{"g":"rut1 amp72h","v":0.092,"j":-7},{"g":"rut1 amp72h","v":0.088,"j":10},{"g":"rut1 amp72h","v":0.080,"j":-12},{"g":"rut1 amp72h","v":0.078,"j":5},{"g":"rut1 amp72h","v":0.070,"j":-4},{"g":"rut1 amp72h","v":0.062,"j":12},{"g":"rut1 amp72h","v":0.058,"j":-10},{"g":"rut1 amp72h","v":0.050,"j":5},{"g":"rut1 amp72h","v":0.035,"j":-5},{"g":"rut1 amp72h","v":0.025,"j":10},{"g":"rut1 amp72h","v":0.022,"j":-13},{"g":"rut1 amp72h","v":0.020,"j":12},{"g":"rut1 amp72h","v":0.015,"j":2},
{"g":"rut1 amp7d","v":0.138,"j":5},{"g":"rut1 amp7d","v":0.133,"j":-10},{"g":"rut1 amp7d","v":0.130,"j":15},{"g":"rut1 amp7d","v":0.128,"j":-3},{"g":"rut1 amp7d","v":0.120,"j":10},{"g":"rut1 amp7d","v":0.110,"j":-12},{"g":"rut1 amp7d","v":0.105,"j":2},{"g":"rut1 amp7d","v":0.100,"j":-8},{"g":"rut1 amp7d","v":0.098,"j":13},{"g":"rut1 amp7d","v":0.092,"j":-15},{"g":"rut1 amp7d","v":0.088,"j":5},{"g":"rut1 amp7d","v":0.085,"j":-5},{"g":"rut1 amp7d","v":0.080,"j":10},{"g":"rut1 amp7d","v":0.078,"j":-12},{"g":"rut1 amp7d","v":0.075,"j":3},{"g":"rut1 amp7d","v":0.072,"j":-8},{"g":"rut1 amp7d","v":0.070,"j":12},{"g":"rut1 amp7d","v":0.065,"j":-3},{"g":"rut1 amp7d","v":0.062,"j":8},{"g":"rut1 amp7d","v":0.058,"j":-12},{"g":"rut1 amp7d","v":0.045,"j":14},{"g":"rut1 amp7d","v":0.042,"j":-8},{"g":"rut1 amp7d","v":0.040,"j":3},{"g":"rut1 amp7d","v":0.038,"j":-15},{"g":"rut1 amp7d","v":0.030,"j":8},{"g":"rut1 amp7d","v":0.028,"j":-3}
],
"bsig": [
{"g":"rut1 unamp","g2":"rut1 amp7d","v":0.2682},
{"g":"rut1 unamp","g2":"rut1 amp15min","v":0.2381},
{"g":"rut1 amp15min","g2":"rut1 amp7d","v":0.2381},
{"g":"rut1 amp15min","g2":"rut1 amp72h","v":0.2112},
{"g":"rut1 amp72h","g2":"rut1 amp7d","v":0.2112}
],
"blab": [
{"g":"rut1 amp15min","v":0.2682,"t":"****","between":true},
{"g":"rut1 unamp","v":0.2381,"t":"****","between":true},
{"g":"rut1 amp72h","v":0.2381,"t":"ns","between":false},
{"g":"rut1 amp15min","v":0.2112,"t":"ns","between":true},
{"g":"rut1 amp72h","v":0.2112,"t":"*","between":true}
],
"csig": [
{"g":"rut1 unamp","g2":"rut1 amp7d","v":0.2605},
{"g":"rut1 unamp","g2":"rut1 amp15min","v":0.2317},
{"g":"rut1 amp15min","g2":"rut1 amp7d","v":0.2317},
{"g":"rut1 amp15min","g2":"rut1 amp72h","v":0.202},
{"g":"rut1 amp72h","g2":"rut1 amp7d","v":0.202}
],
"clab": [
{"g":"rut1 amp15min","v":0.2605,"t":"****","between":true},
{"g":"rut1 unamp","v":0.2317,"t":"****","between":true},
{"g":"rut1 amp72h","v":0.2317,"t":"ns","between":false},
{"g":"rut1 amp15min","v":0.202,"t":"*","between":true},
{"g":"rut1 amp72h","v":0.202,"t":"ns","between":true}
]
},
"hconcat": [
{
"width": 482, "height": 351,
"view": {"stroke": "#3c3c3c", "strokeWidth": 1.3},
"layer": [
{"data": {"name": "tracks"}, "mark": {"type": "line", "strokeWidth": 1},
 "encoding": {
  "x": {"field": "x", "type": "quantitative", "scale": {"domain": [32, 514], "nice": false, "zero": false}, "axis": {"values": [60, 83.5, 107, 130.3, 181.5, 204.7, 228, 251.5, 303, 326.5, 350, 373.5, 424, 447.5, 471, 495], "grid": true, "gridColor": "#e8e8e8", "labels": false, "domain": false, "ticks": false, "title": null}},
  "y": {"field": "y", "type": "quantitative", "scale": {"domain": [12, 363], "nice": false, "zero": false, "reverse": true}, "axis": {"values": [44.5, 116.5, 188.5, 260.5, 332.7], "grid": true, "gridColor": "#e8e8e8", "labels": false, "domain": false, "ticks": false, "title": null}},
  "color": {"field": "c", "type": "nominal", "scale": {"domain": ["red", "orange", "green", "dark"], "range": ["#ff2d2d", "#ff8c1a", "#2ee62e", "#2a2a2a"]}, "legend": null},
  "detail": {"field": "id"}, "order": {"field": "o"}}},
{"data": {"values": [{}]}, "mark": {"type": "rect", "fill": "transparent", "stroke": "#707070", "strokeWidth": 2},
 "encoding": {"x": {"datum": 5, "type": "quantitative"}, "x2": {"datum": 985}, "y": {"datum": 6, "type": "quantitative"}, "y2": {"datum": 368}}},
{"data": {"values": [{}]}, "mark": {"type": "rule", "color": "#c8c8c8", "strokeWidth": 1},
 "encoding": {"x": {"datum": 37, "type": "quantitative"}, "x2": {"datum": 513}, "y": {"datum": 14.5, "type": "quantitative"}}},
{"data": {"name": "dividers"}, "mark": {"type": "rule", "color": "#ababab", "strokeWidth": 1.2},
 "encoding": {"x": {"field": "x", "type": "quantitative"}, "y": {"datum": 14.5, "type": "quantitative"}, "y2": {"datum": 363}}},
{"data": {"name": "arcs"}, "mark": {"type": "line", "interpolate": "natural", "color": "#9a9a9a", "strokeWidth": 1.3},
 "encoding": {"x": {"field": "x", "type": "quantitative"}, "y": {"field": "y", "type": "quantitative"}, "detail": {"field": "id"}, "order": {"field": "o"}}},
{"data": {"name": "stubs"}, "mark": {"type": "line", "color": "#808080", "strokeWidth": 1.6},
 "encoding": {"x": {"field": "x", "type": "quantitative"}, "y": {"field": "y", "type": "quantitative"}, "detail": {"field": "id"}, "order": {"field": "o"}}},
{"data": {"name": "tracks"}, "transform": [{"filter": "datum.o === 0"}], "mark": {"type": "circle", "size": 12, "opacity": 1},
 "encoding": {"x": {"field": "x", "type": "quantitative"}, "y": {"field": "y", "type": "quantitative"},
  "color": {"field": "c", "type": "nominal", "legend": null}}},
{"data": {"name": "subtitles"}, "mark": {"type": "text", "font": "Open Sans", "fontSize": 11.5, "color": "#1e1e1e", "baseline": "middle"},
 "encoding": {"x": {"field": "x", "type": "quantitative"}, "y": {"field": "y", "type": "quantitative"}, "text": {"field": "t"}}},
{"data": {"values": [{}]}, "mark": {"type": "text", "text": "a", "font": "Liberation Sans", "fontSize": 31, "color": "black", "baseline": "alphabetic"},
 "encoding": {"x": {"datum": 21.5, "type": "quantitative"}, "y": {"datum": 32.3, "type": "quantitative"}}}
]
},
{
"width": 171, "height": 235,
"layer": [
{"data": {"values": [{}]}, "mark": {"type": "rule", "color": "#555555", "strokeDash": [2, 2], "strokeWidth": 1},
 "encoding": {"y": {"datum": 0, "type": "quantitative", "scale": {"domain": [-0.05, 0.2], "range": [235, 110.3], "nice": false, "zero": false}}}},
{"data": {"name": "bpts"},
 "mark": {"type": "boxplot", "extent": "min-max", "size": 29, "box": {"fill": "transparent", "stroke": "#aaaaaa", "strokeWidth": 1.6}, "median": {"color": "#aaaaaa", "thickness": 1.6}, "rule": {"color": "#aaaaaa", "strokeWidth": 1.6}, "ticks": {"color": "#aaaaaa", "size": 12, "thickness": 1.6}},
 "encoding": {"x": {"field": "g", "type": "nominal", "title": "Parametric", "scale": {"domain": ["rut1 unamp", "rut1 amp15min", "rut1 amp72h", "rut1 amp7d"], "paddingInner": 0, "paddingOuter": 0}},
  "y": {"field": "v", "type": "quantitative", "title": "AEP Footprint Clustering (b.u.)"}}},
{"data": {"name": "bpts"}, "mark": {"type": "circle", "size": 42, "color": "black", "opacity": 1},
 "encoding": {"x": {"field": "g", "type": "nominal", "title": "Parametric"}, "xOffset": {"field": "j", "type": "quantitative", "scale": {"domain": [-21.4, 21.4], "nice": false, "zero": false}}, "y": {"field": "v", "type": "quantitative", "title": "AEP Footprint Clustering (b.u.)"}}},
{"data": {"name": "bsig"}, "mark": {"type": "rule", "color": "#111111", "strokeWidth": 1.6},
 "encoding": {"x": {"field": "g", "type": "nominal", "title": "Parametric",
   "axis": {"title": "Parametric", "labelAngle": -45, "labelFontSize": 9, "labelFontWeight": "bold", "labelColor": "black", "titleFontSize": 9.5, "titleFontWeight": "bold", "titleColor": "black", "domainColor": "black", "domainWidth": 1.5, "tickColor": "black", "tickWidth": 1.5, "tickSize": 4, "labelPadding": 2, "titlePadding": 6}},
  "x2": {"field": "g2"},
  "y": {"field": "v", "type": "quantitative", "title": "AEP Footprint Clustering (b.u.)",
   "axis": {"title": "AEP Footprint Clustering (b.u.)", "values": [-0.05, 0, 0.05, 0.1, 0.15, 0.2], "labelExpr": "replace(format(datum.value, '.2f'), '\u2212', '-')", "labelFontSize": 9, "labelFontWeight": "bold", "labelColor": "black", "titleFontSize": 12.5, "titleFontWeight": "bold", "titleColor": "black", "domainColor": "black", "domainWidth": 1.5, "tickColor": "black", "tickWidth": 1.5, "tickSize": 4, "labelPadding": 2, "grid": false, "titlePadding": 3}}}},
{"data": {"name": "bsig"}, "mark": {"type": "tick", "orient": "vertical", "color": "#111111", "size": 7, "thickness": 1.6},
 "encoding": {"x": {"field": "g", "type": "nominal", "title": "Parametric"}, "y": {"field": "v", "type": "quantitative", "title": "AEP Footprint Clustering (b.u.)"}}},
{"data": {"name": "bsig"}, "mark": {"type": "tick", "orient": "vertical", "color": "#111111", "size": 7, "thickness": 1.6},
 "encoding": {"x": {"field": "g2", "type": "nominal", "title": "Parametric"}, "y": {"field": "v", "type": "quantitative", "title": "AEP Footprint Clustering (b.u.)"}}},
{"data": {"name": "blab"}, "transform": [{"filter": "datum.between"}], "mark": {"type": "text", "color": "#222222", "baseline": "alphabetic", "dx": 21.4, "dy": -3},
 "encoding": {"x": {"field": "g", "type": "nominal", "title": "Parametric"}, "y": {"field": "v", "type": "quantitative", "title": "AEP Footprint Clustering (b.u.)"}, "text": {"field": "t"},
  "size": {"condition": {"test": "datum.t === 'ns'", "value": 10.5}, "value": 8}}},
{"data": {"name": "blab"}, "transform": [{"filter": "!datum.between"}], "mark": {"type": "text", "color": "#222222", "baseline": "alphabetic", "dy": -3},
 "encoding": {"x": {"field": "g", "type": "nominal", "title": "Parametric"}, "y": {"field": "v", "type": "quantitative", "title": "AEP Footprint Clustering (b.u.)"}, "text": {"field": "t"},
  "size": {"condition": {"test": "datum.t === 'ns'", "value": 10.5}, "value": 8}}},
{"data": {"values": [{}]}, "mark": {"type": "text", "text": "b", "fontSize": 31, "color": "black", "baseline": "alphabetic", "dx": -46.8},
 "encoding": {"x": {"datum": "rut1 unamp", "type": "nominal"}, "y": {"datum": 0.3716, "type": "quantitative"}}}
]
},
{
"width": 171, "height": 237,
"layer": [
{"data": {"values": [{}]}, "mark": {"type": "rule", "color": "#555555", "strokeDash": [2, 2], "strokeWidth": 1},
 "encoding": {"y": {"datum": 0, "type": "quantitative", "scale": {"domain": [-0.05, 0.2], "range": [237, 113], "nice": false, "zero": false}}}},
{"data": {"name": "cpts"},
 "mark": {"type": "boxplot", "extent": "min-max", "size": 29, "box": {"fill": "transparent", "stroke": "#aaaaaa", "strokeWidth": 1.6}, "median": {"color": "#aaaaaa", "thickness": 1.6}, "rule": {"color": "#aaaaaa", "strokeWidth": 1.6}, "ticks": {"color": "#aaaaaa", "size": 12, "thickness": 1.6}},
 "encoding": {"x": {"field": "g", "type": "nominal", "title": "Parametric", "scale": {"domain": ["rut1 unamp", "rut1 amp15min", "rut1 amp72h", "rut1 amp7d"], "paddingInner": 0, "paddingOuter": 0}},
  "y": {"field": "v", "type": "quantitative", "title": "PEP Footprint Clustering (b.u.)"}}},
{"data": {"name": "cpts"}, "mark": {"type": "circle", "size": 42, "color": "black", "opacity": 1},
 "encoding": {"x": {"field": "g", "type": "nominal", "title": "Parametric"}, "xOffset": {"field": "j", "type": "quantitative", "scale": {"domain": [-21.4, 21.4], "nice": false, "zero": false}}, "y": {"field": "v", "type": "quantitative", "title": "PEP Footprint Clustering (b.u.)"}}},
{"data": {"name": "csig"}, "mark": {"type": "rule", "color": "#111111", "strokeWidth": 1.6},
 "encoding": {"x": {"field": "g", "type": "nominal", "title": "Parametric",
   "axis": {"title": "Parametric", "labelAngle": -45, "labelFontSize": 9, "labelFontWeight": "bold", "labelColor": "black", "titleFontSize": 9.5, "titleFontWeight": "bold", "titleColor": "black", "domainColor": "black", "domainWidth": 1.5, "tickColor": "black", "tickWidth": 1.5, "tickSize": 4, "labelPadding": 2, "titlePadding": 6}},
  "x2": {"field": "g2"},
  "y": {"field": "v", "type": "quantitative", "title": "PEP Footprint Clustering (b.u.)",
   "axis": {"title": "PEP Footprint Clustering (b.u.)", "values": [-0.05, 0, 0.05, 0.1, 0.15, 0.2], "labelExpr": "replace(format(datum.value, '.2f'), '\u2212', '-')", "labelFontSize": 9, "labelFontWeight": "bold", "labelColor": "black", "titleFontSize": 12.5, "titleFontWeight": "bold", "titleColor": "black", "domainColor": "black", "domainWidth": 1.5, "tickColor": "black", "tickWidth": 1.5, "tickSize": 4, "labelPadding": 2, "grid": false, "titlePadding": 3}}}},
{"data": {"name": "csig"}, "mark": {"type": "tick", "orient": "vertical", "color": "#111111", "size": 7, "thickness": 1.6},
 "encoding": {"x": {"field": "g", "type": "nominal", "title": "Parametric"}, "y": {"field": "v", "type": "quantitative", "title": "PEP Footprint Clustering (b.u.)"}}},
{"data": {"name": "csig"}, "mark": {"type": "tick", "orient": "vertical", "color": "#111111", "size": 7, "thickness": 1.6},
 "encoding": {"x": {"field": "g2", "type": "nominal", "title": "Parametric"}, "y": {"field": "v", "type": "quantitative", "title": "PEP Footprint Clustering (b.u.)"}}},
{"data": {"name": "clab"}, "transform": [{"filter": "datum.between"}], "mark": {"type": "text", "color": "#222222", "baseline": "alphabetic", "dx": 21.4, "dy": -3},
 "encoding": {"x": {"field": "g", "type": "nominal", "title": "Parametric"}, "y": {"field": "v", "type": "quantitative", "title": "PEP Footprint Clustering (b.u.)"}, "text": {"field": "t"},
  "size": {"condition": {"test": "datum.t === 'ns'", "value": 10.5}, "value": 8}}},
{"data": {"name": "clab"}, "transform": [{"filter": "!datum.between"}], "mark": {"type": "text", "color": "#222222", "baseline": "alphabetic", "dy": -3},
 "encoding": {"x": {"field": "g", "type": "nominal", "title": "Parametric"}, "y": {"field": "v", "type": "quantitative", "title": "PEP Footprint Clustering (b.u.)"}, "text": {"field": "t"},
  "size": {"condition": {"test": "datum.t === 'ns'", "value": 10.5}, "value": 8}}},
{"data": {"values": [{}]}, "mark": {"type": "text", "text": "c", "fontSize": 31, "color": "black", "baseline": "alphabetic", "dx": -55.5},
 "encoding": {"x": {"datum": "rut1 unamp", "type": "nominal"}, "y": {"datum": 0.3875, "type": "quantitative"}}}
]
}
]
}
